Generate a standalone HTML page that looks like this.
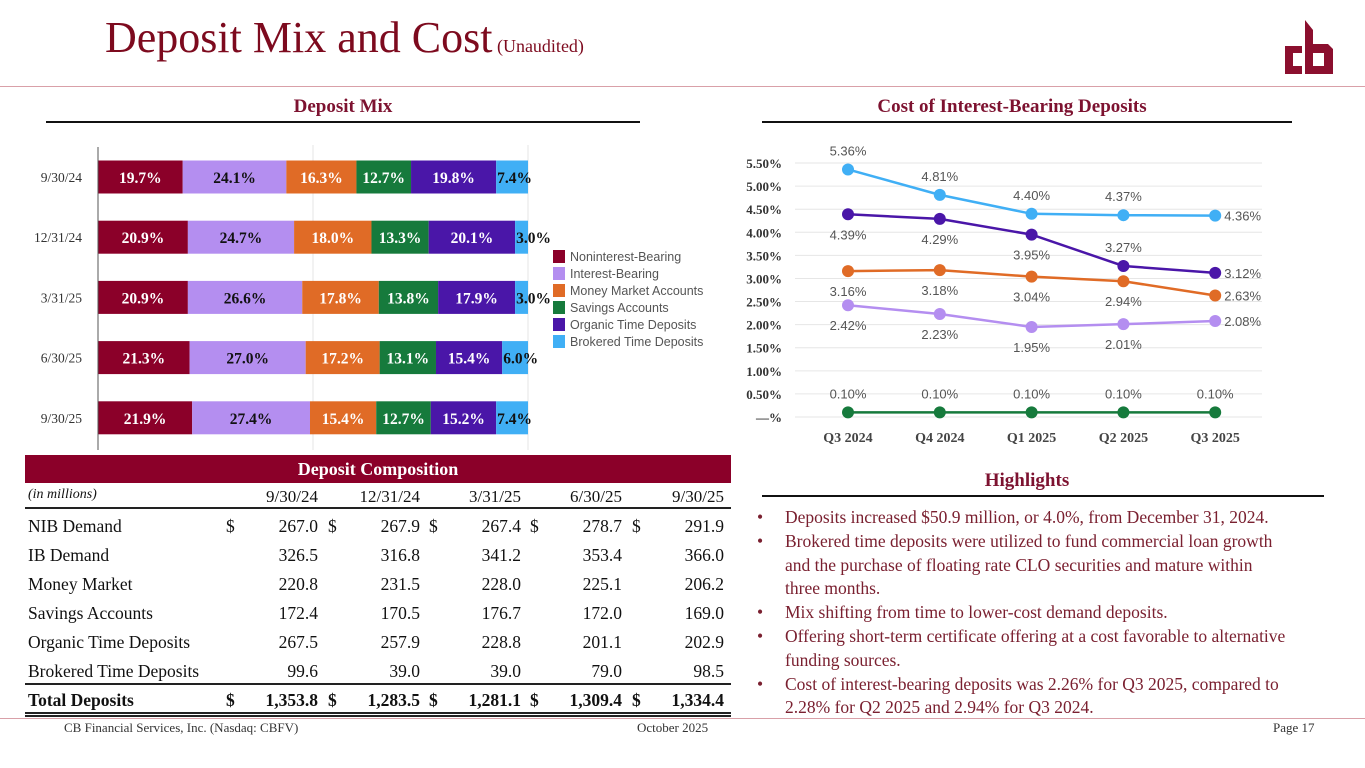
<!DOCTYPE html>
<html><head><meta charset="utf-8">
<style>
body{margin:0;width:1365px;height:768px;position:relative;background:#fff;overflow:hidden;font-family:"Liberation Serif",serif}
.a{position:absolute;white-space:nowrap}
.sub{font-weight:bold;font-size:19px;color:#7d1230;text-align:center}
.r{text-align:right}
.tb{font-size:17.5px;color:#111}
.hl{font-size:17.5px;color:#7a2030;line-height:23.8px}
.li{display:flex}
.li .bu{width:28px;flex:none}
</style></head><body>
<div class="a" style="left:105px;top:12px;font-size:44px;color:#7d0a1e">Deposit Mix and Cost<span style="font-size:18px"> (Unaudited)</span></div>
<div class="a" style="left:0;top:86px;width:1365px;height:1px;background:#d9a0a8"></div>
<svg class="a" style="left:1283px;top:16px" width="52" height="62" viewBox="0 0 52 62">
<polygon points="2,30 19,30 19,37 10,37 10,50 19,50 19,58 2,58" fill="#8b0f2e"/>
<polygon points="22,4 30,14 30,28 45,28 50,33 50,58 22,58" fill="#8b0f2e"/>
<rect x="30" y="37" width="11" height="13" fill="#fff"/>
</svg>

<div class="a sub" style="left:46px;width:594px;top:96px">Deposit Mix</div>
<div class="a" style="left:46px;top:121px;width:594px;height:2px;background:#111"></div>
<div class="a sub" style="left:762px;width:500px;top:96px">Cost of Interest-Bearing Deposits</div>
<div class="a" style="left:762px;top:121px;width:530px;height:2px;background:#111"></div>

<svg class="a" id="bars" style="left:0;top:0" width="740" height="450"></svg>
<svg class="a" id="lines" style="left:740px;top:130px" width="625" height="320"></svg>

<div class="a" style="left:25px;top:455px;width:706px;height:28px;background:#8b0029;color:#fff;font-weight:bold;font-size:18px;text-align:center;line-height:29px">Deposit Composition</div>
<div id="tbl"></div>
<div class="a" style="left:0;top:718px;width:1365px;height:1px;background:#d9a0a8"></div>
<div class="a" style="left:64px;top:720px;font-size:13px;color:#333">CB Financial Services, Inc. (Nasdaq: CBFV)</div>
<div class="a" style="left:637px;top:720px;font-size:13px;color:#333">October 2025</div>
<div class="a" style="left:1273px;top:720px;font-size:13px;color:#333">Page 17</div>

<div class="a sub" style="left:762px;width:530px;top:470px">Highlights</div>
<div class="a" style="left:762px;top:495px;width:562px;height:2px;background:#111"></div>
<div class="a hl" style="left:757px;top:506px;white-space:normal;width:600px">
<div class="li"><span class="bu">•</span><span>Deposits increased $50.9 million, or 4.0%, from December 31, 2024.</span></div>
<div class="li"><span class="bu">•</span><span>Brokered time deposits were utilized to fund commercial loan growth<br>and the purchase of floating rate CLO securities and mature within<br>three months.</span></div>
<div class="li"><span class="bu">•</span><span>Mix shifting from time to lower-cost demand deposits.</span></div>
<div class="li"><span class="bu">•</span><span>Offering short-term certificate offering at a cost favorable to alternative<br>funding sources.</span></div>
<div class="li"><span class="bu">•</span><span>Cost of interest-bearing deposits was 2.26% for Q3 2025, compared to<br>2.28% for Q2 2025 and 2.94% for Q3 2024.</span></div>
</div>

<script>
const NS='http://www.w3.org/2000/svg';
function mk(p,tag,at,txt){const e=document.createElementNS(NS,tag);for(const k in at)e.setAttribute(k,at[k]);if(txt!==undefined)e.textContent=txt;p.appendChild(e);return e;}

// ---- Deposit mix data ----
const mixDates=['9/30/24','12/31/24','3/31/25','6/30/25','9/30/25'];
const mixSeries=['Noninterest-Bearing','Interest-Bearing','Money Market Accounts','Savings Accounts','Organic Time Deposits','Brokered Time Deposits'];
const nib=[19.7,20.9,20.9,21.3,21.9];
const ib=[24.1,24.7,26.6,27.0,27.4];
const mma=[16.3,18.0,17.8,17.2,15.4];
const sav=[12.7,13.3,13.8,13.1,12.7];
const otd=[19.8,20.1,17.9,15.4,15.2];
const btd=[7.4,3.0,3.0,6.0,7.4];
const mixColors=['#8b0029','#b48ef0','#e06b26','#167a3c','#4a16a8','#40aff5'];
const mixText=['#fff','#111','#fff','#fff','#fff','#111'];

const b=document.getElementById('bars');
const bx=v=>98+v/100*430, by=i=>177+i*60.2;
mk(b,'line',{x1:313,y1:145,x2:313,y2:450,stroke:'#e4e4e4'});
mk(b,'line',{x1:528,y1:145,x2:528,y2:450,stroke:'#e4e4e4'});
const all=[nib,ib,mma,sav,otd,btd];
mixDates.forEach((d,i)=>{
  const t=mk(b,'text',{x:82,y:by(i)+5,'text-anchor':'end','font-size':13.5,fill:'#333','font-family':'Liberation Serif'},d);
  
  let acc=0;
  all.forEach((s,k)=>{
    const r=mk(b,'rect',{x:bx(acc),y:by(i)-16.5,width:bx(acc+s[i])-bx(acc),height:33,fill:mixColors[k]});
    
    const cx=k===5?bx(acc)+1:(bx(acc)+bx(acc+s[i]))/2;
    const l=mk(b,'text',{x:cx,y:by(i)+6,'text-anchor':k===5?'start':'middle','font-size':15.5,'font-weight':'bold',fill:mixText[k],'font-family':'Liberation Serif'},s[i].toFixed(1)+'%');
    
    acc+=s[i];
  });
});
mk(b,'line',{x1:98,y1:147,x2:98,y2:450,stroke:'#555'});
mixSeries.forEach((n,k)=>{
  const g=mk(b,'g',{});
  
  mk(g,'rect',{x:553,y:250+k*17,width:12,height:13,fill:mixColors[k]});
  mk(g,'text',{x:570,y:261+k*17,'font-size':12.5,fill:'#555','font-family':'Liberation Sans'},n);
});

// ---- Cost data ----
const quarters=['Q3 2024','Q4 2024','Q1 2025','Q2 2025','Q3 2025'];
const brokered=[5.36,4.81,4.40,4.37,4.36];
const organic=[4.39,4.29,3.95,3.27,3.12];
const moneyMkt=[3.16,3.18,3.04,2.94,2.63];
const ibDemand=[2.42,2.23,1.95,2.01,2.08];
const savings=[0.10,0.10,0.10,0.10,0.10];
const yTicks=['—%','0.50%','1.00%','1.50%','2.00%','2.50%','3.00%','3.50%','4.00%','4.50%','5.00%','5.50%'];
const L=document.getElementById('lines');
const lx=i=>108+i*91.8, ly=v=>287-v*46.18;
yTicks.forEach((t,i)=>{
  const y=ly(i*0.5);
  mk(L,'line',{x1:55,y1:y,x2:522,y2:y,stroke:'#e6e6e6'});
  const e=mk(L,'text',{x:42,y:y+5,'text-anchor':'end','font-size':13,'font-weight':'bold',fill:'#333','font-family':'Liberation Serif'},t);
  
});
quarters.forEach((q,i)=>{
  const e=mk(L,'text',{x:lx(i),y:312,'text-anchor':'middle','font-size':14,'font-weight':'bold',fill:'#444','font-family':'Liberation Serif'},q);
  
});
const lineSets=[
 {d:brokered,c:'#40aff5',pos:['a','a','a','a','r']},
 {d:organic,c:'#4a16a8',pos:['b','b','b','a','r']},
 {d:moneyMkt,c:'#e06b26',pos:['b','b','b','b','r']},
 {d:ibDemand,c:'#b48ef0',pos:['b','b','b','b','r']},
 {d:savings,c:'#167a3c',pos:['a','a','a','a','a']}];
lineSets.forEach(s=>{
  const p=mk(L,'polyline',{points:s.d.map((v,i)=>lx(i)+','+ly(v)).join(' '),fill:'none',stroke:s.c,'stroke-width':2.5});
  
  s.d.forEach((v,i)=>{
    const c=mk(L,'circle',{cx:lx(i),cy:ly(v),r:6,fill:s.c});
    
    let x=lx(i),y=ly(v),a='middle';
    if(s.pos[i]==='a')y-=14;else if(s.pos[i]==='b')y+=25;else{x+=9;y+=5;a='start';}
    const t=mk(L,'text',{x:x,y:y,'text-anchor':a,'font-size':13,fill:'#555','font-family':'Liberation Sans'},v.toFixed(2)+'%');
    
  });
});

// ---- Table ----
const cols=['9/30/24','12/31/24','3/31/25','6/30/25','9/30/25'];
const rows=[['NIB Demand',[267.0,267.9,267.4,278.7,291.9],1],['IB Demand',[326.5,316.8,341.2,353.4,366.0]],['Money Market',[220.8,231.5,228.0,225.1,206.2]],['Savings Accounts',[172.4,170.5,176.7,172.0,169.0]],['Organic Time Deposits',[267.5,257.9,228.8,201.1,202.9]],['Brokered Time Deposits',[99.6,39.0,39.0,79.0,98.5]],['Total Deposits',[1353.8,1283.5,1281.1,1309.4,1334.4],1,1]];
let h='';
const valR=[318,420,521,622,724], dolX=[226,328,429,530,632];
h+='<div class="a tb" style="left:28px;top:487px;font-style:italic;font-size:14px">(in millions)</div>';
cols.forEach((c,j)=>{h+=`<div class="a tb r" style="left:${valR[j]-120}px;width:120px;top:487px;font-size:17px">${c}</div>`;});
h+='<div class="a" style="left:25px;top:507px;width:706px;height:2px;background:#222"></div>';
rows.forEach((r,i)=>{
  const top=516+i*29, bold=r[3]?'font-weight:bold;':'';
  h+=`<div class="a tb" style="left:28px;top:${top}px;${bold}">${r[0]}</div>`;
  r[1].forEach((v,j)=>{
    if(r[2])h+=`<div class="a tb" style="left:${dolX[j]}px;top:${top}px;${bold}">$</div>`;
    h+=`<div class="a tb r" style="left:${valR[j]-100}px;width:100px;top:${top}px;${bold}">${v.toLocaleString('en-US',{minimumFractionDigits:1,maximumFractionDigits:1})}</div>`;
  });
});
h+='<div class="a" style="left:25px;top:683px;width:706px;height:2px;background:#222"></div>';
h+='<div class="a" style="left:25px;top:712px;width:706px;height:5px;border-top:2px solid #222;border-bottom:2px solid #222;box-sizing:border-box"></div>';
document.getElementById('tbl').innerHTML=h;
</script>
</body></html>
